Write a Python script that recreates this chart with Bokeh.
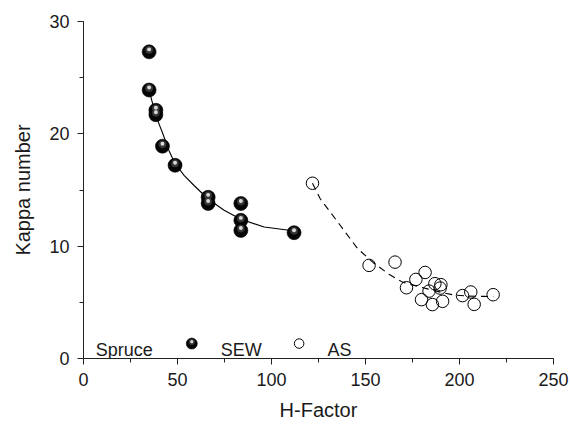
from bokeh.plotting import figure
from bokeh.models import Range1d, SingleIntervalTicker
from bokeh.core.properties import value
from bokeh.embed import file_html
from bokeh.resources import INLINE

# ---- data ----
sew_h = [34.9, 34.9, 38.5, 38.5, 42.0, 48.7, 66.3, 66.3, 83.7, 83.7, 83.7, 112.0]
sew_kappa = [27.3, 23.9, 22.1, 21.7, 18.9, 17.2, 14.35, 13.8, 13.8, 12.3, 11.4, 11.2]

as_h = [121.8, 151.9, 165.7, 171.8, 176.8, 181.7, 179.8, 183.8, 186.9, 190.1,
        189.7, 185.6, 191.0, 201.6, 206.0, 207.8, 217.9]
as_kappa = [15.6, 8.29, 8.58, 6.3, 7.04, 7.66, 5.24, 6.0, 6.66, 6.57,
            6.27, 4.8, 5.09, 5.6, 5.92, 4.82, 5.68]

sew_fit_h = [35.5, 38.5, 42.0, 45.5, 48.5, 53.5, 58.8, 66.3, 74.8, 83.7, 96.1, 110.3]
sew_fit_kappa = [23.5, 21.6, 20.1, 18.5, 17.4, 16.3, 15.4, 14.2, 13.2, 12.4, 11.7, 11.4]

as_fit_h = [121.8, 126.0, 135.0, 145.7, 154.0, 162.5, 169.7, 177.0, 183.0, 190.0, 197.0, 205.0, 213.0, 218.0]
as_fit_kappa = [15.6, 14.2, 12.2, 9.8, 8.55, 7.5, 6.8, 6.45, 6.2, 5.9, 5.65, 5.55, 5.53, 5.5]

legend_title = "Spruce"
legend_labels = ["SEW", "AS"]
x_label = "H-Factor"
y_label = "Kappa number"

FONT = "Liberation Sans"
INK = "#1a1a1a"

p = figure(width=570, height=425, output_backend="svg", toolbar_location=None,
           x_range=Range1d(0, 250), y_range=Range1d(0, 30),
           min_border_left=83, min_border_right=17, min_border_top=21, min_border_bottom=67)
p.outline_line_color = None
p.grid.visible = False
p.background_fill_color = "white"
p.border_fill_color = "white"

p.xaxis.ticker = SingleIntervalTicker(interval=50, num_minor_ticks=2)
p.yaxis.ticker = SingleIntervalTicker(interval=10, num_minor_ticks=2)
for ax in (p.xaxis[0], p.yaxis[0]):
    ax.axis_line_color = "#222222"
    ax.major_tick_line_color = "#222222"
    ax.minor_tick_line_color = "#222222"
    ax.major_tick_in = 0
    ax.major_tick_out = 6
    ax.minor_tick_in = 0
    ax.minor_tick_out = 4
    ax.major_label_text_font = FONT
    ax.major_label_text_font_size = "18px"
    ax.major_label_text_color = INK
    ax.axis_label_text_font = FONT
    ax.axis_label_text_font_size = "20px"
    ax.axis_label_text_font_style = "normal"
    ax.axis_label_text_color = INK
    ax.major_label_standoff = 8
    ax.axis_label_standoff = 10
p.yaxis.axis_label_standoff = 12
p.xaxis.axis_label = x_label
p.yaxis.axis_label = y_label

# fit curves
p.line(sew_fit_h, sew_fit_kappa, line_color="black", line_width=1.1)
p.line(as_fit_h, as_fit_kappa, line_color="black", line_width=1.1, line_dash="7 5")

# SEW spheres (shaded look)
def spheres(xs, ys, size):
    lift = size * 0.012  # small upward shift of the highlight, in data units
    p.scatter(xs, ys, size=size, fill_color="#050505", line_color="black", line_width=0.6)
    p.scatter(xs, [y + lift for y in ys], size=size * 0.55, fill_color="#3c3c3c",
              fill_alpha=0.9, line_color=None)
    p.scatter(xs, [y + lift * 1.3 for y in ys], size=size * 0.28, fill_color="#d8d8d8",
              line_color=None)

spheres(sew_h, sew_kappa, 14)

# AS open circles
p.scatter(as_h, as_kappa, size=12.5, fill_color=None, line_color="black", line_width=1)

# legend drawn inside the plot
ly = 0.74
p.text(x=[6.5], y=[ly], text=[legend_title], text_font=value(FONT), text_font_size="18px",
       text_color=INK, text_baseline="alphabetic", text_align="left")
spheres([57.6], [1.33], 11)
p.text(x=[73.0], y=[ly], text=[legend_labels[0]], text_font=value(FONT), text_font_size="18px",
       text_color=INK, text_baseline="alphabetic", text_align="left")
p.scatter([114.7], [1.33], size=9.5, fill_color=None, line_color="black", line_width=1)
p.text(x=[129.8], y=[ly], text=[legend_labels[1]], text_font=value(FONT), text_font_size="18px",
       text_color=INK, text_baseline="alphabetic", text_align="left")

open("out.html", "w").write(file_html(p, INLINE))
